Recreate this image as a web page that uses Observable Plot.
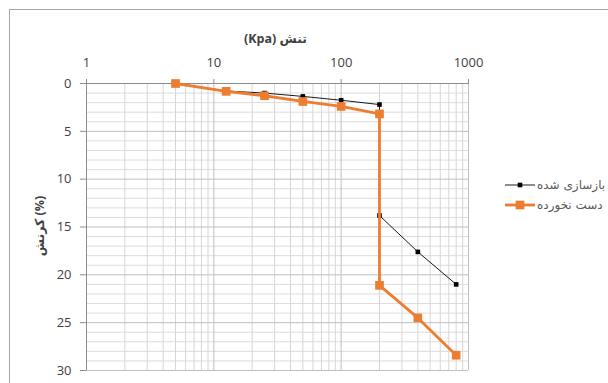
<!DOCTYPE html>
<html>
<head>
<meta charset="utf-8">
<script src="https://cdn.jsdelivr.net/npm/d3@7"></script>
<script src="https://cdn.jsdelivr.net/npm/@observablehq/plot@0.6"></script>
<style>
  html, body { margin: 0; padding: 0; background: #fff; }
  #wrap { position: relative; width: 608px; height: 383px; overflow: hidden; font-family: "Open Sans", "DejaVu Sans", sans-serif; }
  #frame { position: absolute; left: 9px; top: 9px; width: 700px; height: 500px; border-top: 1px solid #a6a6a6; border-left: 1px solid #a6a6a6; }
  #chart { position: absolute; left: 0; top: 0; }
  #legend { position: absolute; left: 504px; top: 175px; font-family: "DejaVu Sans", sans-serif; font-size: 12px; color: #595959; }
  .item { display: flex; align-items: center; height: 20px; }
  .item svg { margin-right: 1px; }
</style>
</head>
<body>
<div id="wrap">
  <div id="frame"></div>
  <div id="chart"></div>
  <div id="legend"></div>
</div>
<script>
// Consolidation test: applied stress (kPa, log scale) against strain (%)
const stress = [5, 12.5, 25, 50, 100, 200, 200, 400, 800];
const rebuiltStrain = [0, 0.78, 1.0, 1.35, 1.75, 2.2, 13.8, 17.6, 21.0];
const undisturbedStrain = [0, 0.82, 1.28, 1.88, 2.4, 3.18, 21.1, 24.5, 28.4];

const seriesNames = ["بازسازی شده", "دست نخورده"];
const seriesColors = ["#000000", "#ED7D31"];

const xTitle = "(Kpa) تنش";
const yTitle = "کرنش (%)";

const xMajorTicks = [1, 10, 100, 1000];
const xMinorTicks = [2, 3, 4, 5, 6, 7, 8, 9, 20, 30, 40, 50, 60, 70, 80, 90, 200, 300, 400, 500, 600, 700, 800, 900];
const yMajorTicks = [0, 5, 10, 15, 20, 25, 30];
const yMinorTicks = [1, 2, 3, 4, 6, 7, 8, 9, 11, 12, 13, 14, 16, 17, 18, 19, 21, 22, 23, 24, 26, 27, 28, 29];

const rebuilt = stress.map((s, i) => ({stress: s, strain: rebuiltStrain[i]}));
const undisturbed = stress.map((s, i) => ({stress: s, strain: undisturbedStrain[i]}));

const chart = Plot.plot({
  width: 608,
  height: 383,
  marginLeft: 86,
  marginRight: 140,
  marginTop: 83,
  marginBottom: 13,
  style: {fontFamily: "'Open Sans', 'DejaVu Sans', sans-serif", fontSize: "13px", color: "#595959", background: "transparent"},
  x: {type: "log", domain: [1, 1000]},
  y: {domain: [0, 30], reverse: true},
  marks: [
    Plot.ruleY(yMinorTicks, {stroke: "#dcdcdc", strokeWidth: 1}),
    Plot.ruleX(xMinorTicks, {stroke: "#d6d6d6", strokeWidth: 1}),
    Plot.ruleY(yMajorTicks, {stroke: "#bfbfbf", strokeWidth: 1}),
    Plot.ruleX(xMajorTicks, {stroke: "#bfbfbf", strokeWidth: 1}),
    Plot.ruleY([0], {stroke: "#8c8c8c", strokeWidth: 1}),
    Plot.ruleX([1], {stroke: "#8c8c8c", strokeWidth: 1}),
    Plot.axisX(xMajorTicks, {anchor: "top", tickSize: 5, tickPadding: 12, stroke: "#8c8c8c", tickFormat: d => String(d), label: null, fill: "#404040"}),
    Plot.axisY(yMajorTicks, {anchor: "left", tickSize: 6, tickPadding: 9, stroke: "#8c8c8c", tickFormat: d => String(d), label: null, fill: "#404040"}),
    Plot.text([xTitle], {frameAnchor: "top", dx: -2, dy: -41, lineAnchor: "bottom", fontWeight: "bold", fontSize: 12.5, fill: "#404040"}),
    Plot.text([yTitle], {frameAnchor: "left", textAnchor: "middle", dx: -47, dy: -1, rotate: -90, fontWeight: "bold", fontSize: 12.5, fill: "#404040"}),
    Plot.line(rebuilt, {x: "stress", y: "strain", stroke: seriesColors[0], strokeWidth: 0.9}),
    Plot.dot(rebuilt, {x: "stress", y: "strain", symbol: "square", r: 2.6, fill: seriesColors[0], stroke: "none"}),
    Plot.line(undisturbed, {x: "stress", y: "strain", stroke: seriesColors[1], strokeWidth: 2.8}),
    Plot.dot(undisturbed, {x: "stress", y: "strain", symbol: "square", r: 4.9, fill: seriesColors[1], stroke: "none"})
  ]
});
document.getElementById("chart").appendChild(chart);

// Legend: line sample with marker, followed by the series name
const legend = document.getElementById("legend");
seriesNames.forEach((name, i) => {
  const item = document.createElement("div");
  item.className = "item";
  const sw = i === 0 ? 2.6 * Math.sqrt(Math.PI) : 4.9 * Math.sqrt(Math.PI);
  const lw = i === 0 ? 0.9 : 2.8;
  item.innerHTML = `<svg width="32" height="12"><line x1="1" x2="31" y1="6" y2="6" stroke="${seriesColors[i]}" stroke-width="${lw}"/><rect x="${16 - sw / 2}" y="${6 - sw / 2}" width="${sw}" height="${sw}" fill="${seriesColors[i]}"/></svg><span>${name}</span>`;
  legend.appendChild(item);
});
</script>
</body>
</html>
